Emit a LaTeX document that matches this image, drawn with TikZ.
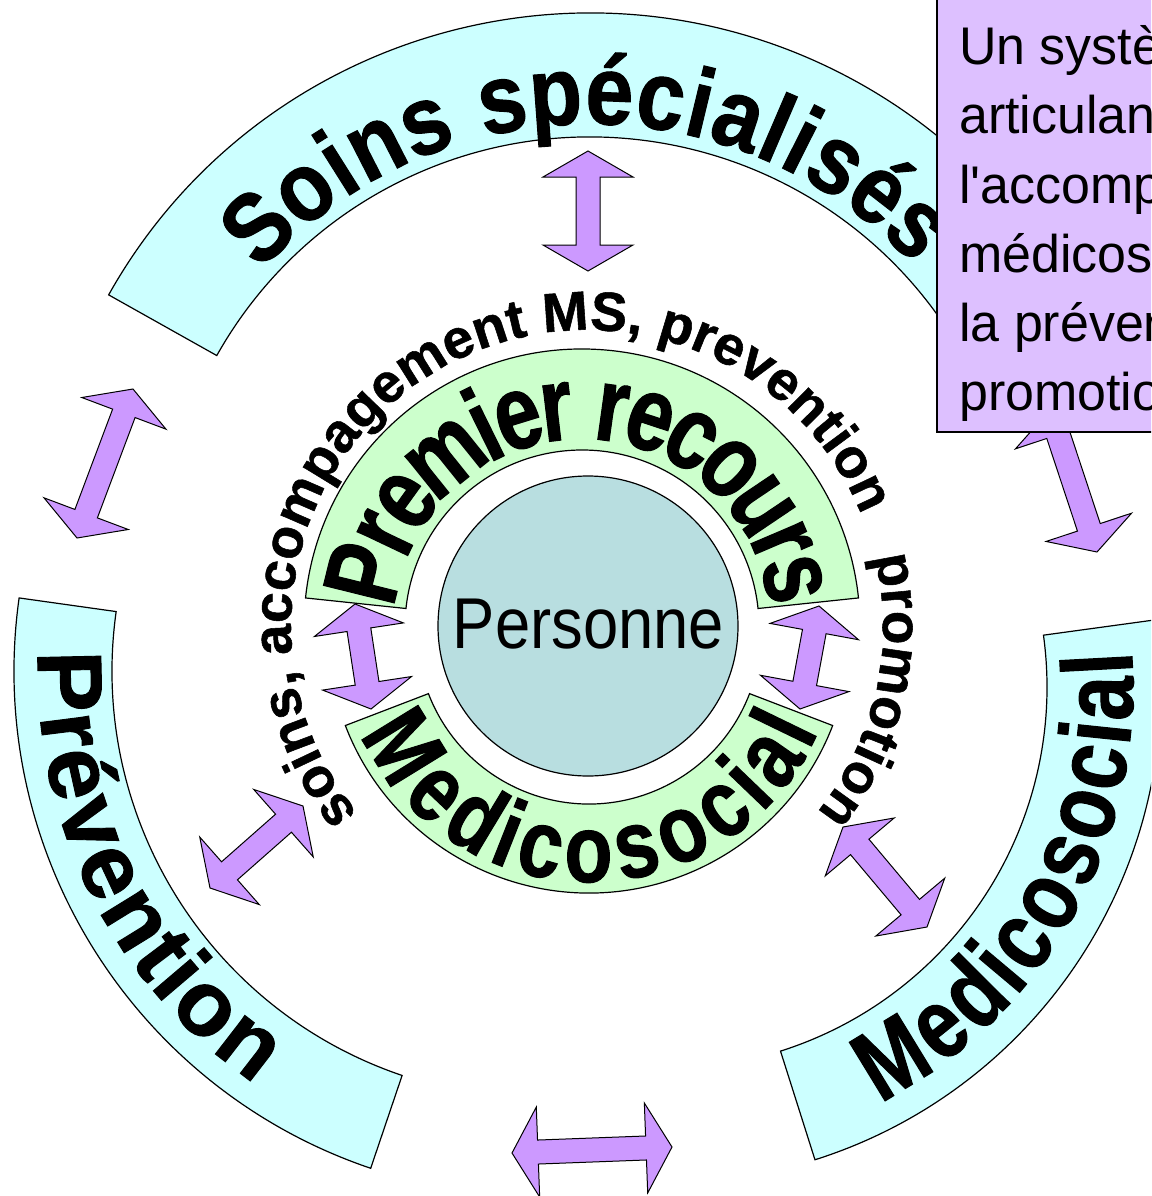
\documentclass[tikz,border=0pt]{standalone}
\usepackage{fontspec}
\setmainfont{Liberation Sans}
\newfontfamily\FArc[FakeBold=1]{Liberation Sans Bold}
\newfontfamily\FArcS[FakeStretch=0.88,FakeBold=1]{Liberation Sans Bold}
\newfontfamily\FArcN[FakeStretch=0.78,FakeBold=1]{Liberation Sans Bold}
\newfontfamily\FArcL[FakeStretch=0.82,FakeBold=1]{Liberation Sans Bold}
\newfontfamily\FArcR[FakeStretch=0.8,FakeBold=1]{Liberation Sans Bold}
\newfontfamily\FBox[FakeStretch=0.98,Ligatures=TeXOff]{Liberation Sans}
\newfontfamily\FPers[FakeStretch=0.88]{Liberation Sans}
\newcommand\tSoins{\FArcS\fontsize{98}{98}\selectfont}
\newcommand\tPrev{\FArc\fontsize{92}{92}\selectfont}
\newcommand\tPrem{\FArcN\fontsize{106}{106}\selectfont}
\newcommand\tMedL{\FArcL\fontsize{96}{96}\selectfont}
\newcommand\tMedR{\FArcR\fontsize{100}{100}\selectfont}
\newcommand\tBlk{\FArc\fontsize{55}{55}\selectfont}
\newcommand\tBox{\FBox\fontsize{53}{69}\selectfont}
\newcommand\tPers{\FPers\fontsize{72}{72}\selectfont}
\usetikzlibrary{calc,decorations.text}
\definecolor{cyanfill}{RGB}{204,255,255}
\definecolor{greenfill}{RGB}{204,255,204}
\definecolor{arrfill}{RGB}{204,153,255}
\definecolor{boxfill}{RGB}{221,192,255}
\definecolor{circfill}{RGB}{184,222,224}
\def\ahl{26pt}
\def\ahw{45pt}
\def\asw{12pt}
\newcommand{\dblblock}[2]{%
  \draw[blockarr] (#1) -- ($(#1)!\ahl!(#2)!\ahw!90:(#2)$) -- ($(#1)!\ahl!(#2)!\asw!90:(#2)$)
    -- ($(#2)!\ahl!(#1)!\asw!-90:(#1)$) -- ($(#2)!\ahl!(#1)!\ahw!-90:(#1)$) -- (#2)
    -- ($(#2)!\ahl!(#1)!\ahw!90:(#1)$) -- ($(#2)!\ahl!(#1)!\asw!90:(#1)$)
    -- ($(#1)!\ahl!(#2)!\asw!-90:(#2)$) -- ($(#1)!\ahl!(#2)!\ahw!-90:(#2)$) -- cycle;}
\tikzset{
  outerarc/.style={draw=black, line width=1.2pt, fill=cyanfill},
  greenarc/.style={draw=black, line width=1.2pt, fill=greenfill},
  blockarr/.style={draw=black, line width=1pt, fill=arrfill, line join=miter},
  sysbox/.style={draw=black, line width=1.2pt, fill=boxfill},
  boxline/.style={anchor=base west, font=\tBox, inner sep=0pt},
}
\begin{document}
\begin{tikzpicture}[x=1pt,y=1pt]
\useasboundingbox (0,0) rectangle (1151,-1196);
\clip (0,0) rectangle (1151,-1196);
\fill[white] (0,0) rectangle (1151,-1196);
% centres
\coordinate (cS) at (590,-565);
\coordinate (cP) at (539,-671);
\coordinate (cM) at (665,-687);
\coordinate (cG) at (582,-627);
\coordinate (cH) at (589,-632);
\coordinate (cT) at (587,-626);
% outer arcs
\draw[outerarc] ($(cS)+(150.7:552)$) arc[start angle=150.7,end angle=28,radius=552]
  -- ($(cS)+(28:428)$) arc[start angle=28,end angle=150.7,radius=428] -- cycle;
\draw[outerarc] ($(cP)+(172:525)$) arc[start angle=172,end angle=251.3,radius=525]
  -- ($(cP)+(251.3:427)$) arc[start angle=251.3,end angle=172,radius=427] -- cycle;
\draw[outerarc] ($(cM)+(-72.4:496)$) arc[start angle=-72.4,end angle=7.8,radius=496]
  -- ($(cM)+(7.8:382)$) arc[start angle=7.8,end angle=-72.4,radius=382] -- cycle;
% green arcs
\draw[greenarc] ($(cG)+(174:278)$) arc[start angle=174,end angle=6,radius=278]
  -- ($(cG)+(6:177)$) arc[start angle=6,end angle=174,radius=177] -- cycle;
\draw[greenarc] ($(cH)+(201:261)$) arc[start angle=201,end angle=339,radius=261]
  -- ($(cH)+(339:172)$) arc[start angle=339,end angle=201,radius=172] -- cycle;
% centre circle
\node[circle, draw=black, line width=1.2pt, fill=circfill, minimum size=300pt, inner sep=0pt] (pers) at (588,-626) {};
\node[anchor=base, font=\tPers, inner sep=0pt] (perslbl) at (588.5,-648) {Personne};
% texts on arcs
\path[decorate,decoration={text along path,text={|\tSoins|Soins spécialisés},text align={fit to path},raise=-35pt}]
  ($(cS)+(138:476)$) arc[start angle=138,end angle=43,radius=476];
\path[decorate,decoration={text along path,text={|\tPrev|Prévention},text align={fit to path},raise=-33pt}]
  ($(cP)+(177.5:468)$) arc[start angle=177.5,end angle=235.5,radius=468];
\path[decorate,decoration={text along path,text={|\tMedR|Medicosocial},text align={fit to path},raise=-36pt}]
  ($(cM)+(-63:432)$) arc[start angle=-63,end angle=4.5,radius=432];
\path[decorate,decoration={text along path,text={|\tPrem|Premier recours},text align={fit to path},raise=-38pt}]
  ($(cG)+(173:226)$) arc[start angle=173,end angle=7,radius=226];
\path[decorate,decoration={text along path,text={|\tMedL|Medicosocial},text align={fit to path},raise=-34pt}]
  ($(cH)+(203:216)$) arc[start angle=203,end angle=337,radius=216];
\path[decorate,decoration={text along path,text={|\tBlk|soins, accompagement MS, prevention},text align={fit to path}}]
  ($(cT)+(219.3:296)$) arc[start angle=219.3,end angle=22,radius=296];
\path[decorate,decoration={text along path,text={|\tBlk|promotion}}]
  ($(cT)+(13.6:296)$) arc[start angle=13.6,end angle=-60,radius=296];
% arrow tips
\coordinate (t1a) at (588,-151);  \coordinate (t1b) at (588,-271);
\coordinate (t2a) at (133,-389);  \coordinate (t2b) at (77,-538);
\coordinate (t3a) at (303,-806);  \coordinate (t3b) at (210,-888);
\coordinate (t4a) at (843,-827);  \coordinate (t4b) at (927,-927);
\coordinate (t5a) at (512,-1153); \coordinate (t5b) at (672,-1147);
\coordinate (t6a) at (355,-604);  \coordinate (t6b) at (371,-709);
\coordinate (t7a) at (819,-606);  \coordinate (t7b) at (800,-709);
\coordinate (t8a) at (1050,-410); \coordinate (t8b) at (1097,-552);
\dblblock{t1a}{t1b}
\dblblock{t2a}{t2b}
\dblblock{t3a}{t3b}
\dblblock{t4a}{t4b}
\dblblock{t5a}{t5b}
\dblblock{t6a}{t6b}
\dblblock{t7a}{t7b}
\dblblock{t8a}{t8b}
% text box
\draw[sysbox] (937,1) rectangle (1180,-432);
\node[boxline] (bl1) at (959,-65) {Un système};
\node[boxline] (bl2) at (959,-134) {articulant};
\node[boxline] (bl3) at (959,-203) {l'accompagnement};
\node[boxline] (bl4) at (959,-272) {médicosocial,};
\node[boxline] (bl5) at (959,-341) {la prévention};
\node[boxline] (bl6) at (959,-410) {promotion};
\end{tikzpicture}
\end{document}
